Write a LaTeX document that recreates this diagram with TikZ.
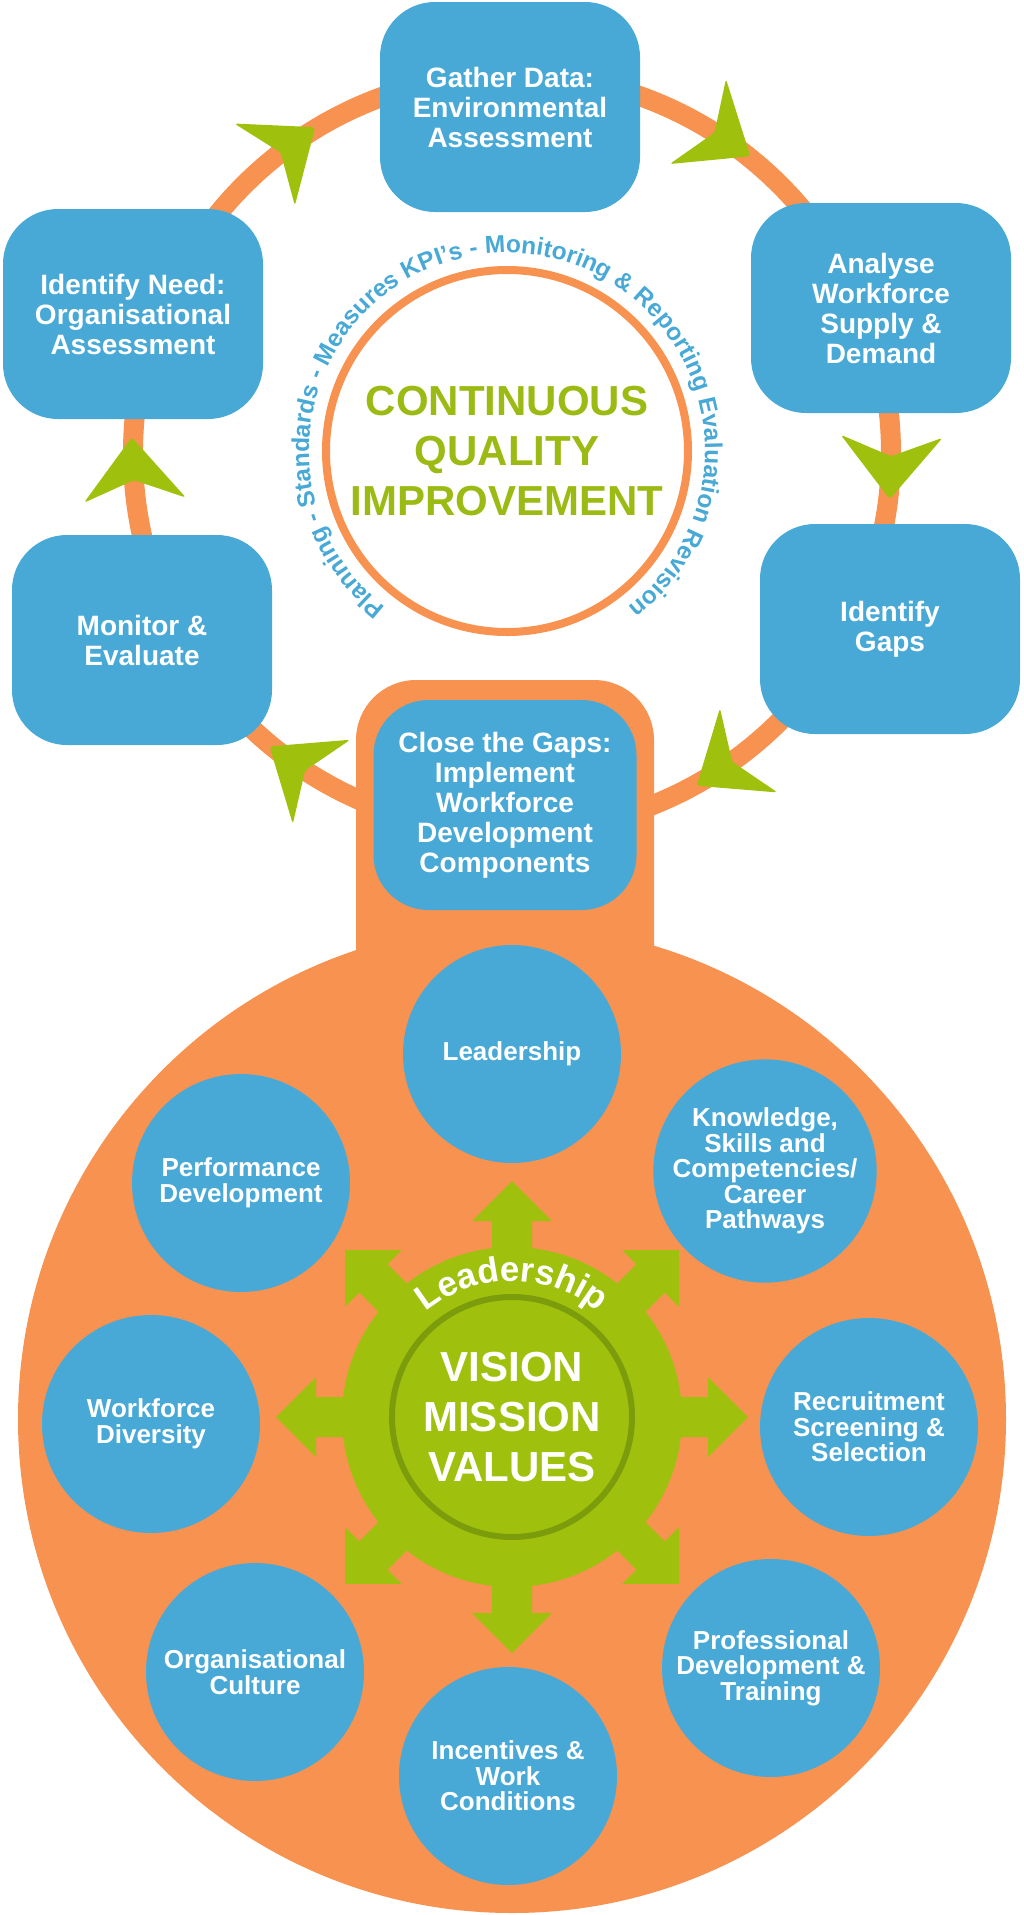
\documentclass[tikz,border=0pt]{standalone}
\usepackage{fontspec}
\setmainfont{Liberation Sans}
\usetikzlibrary{decorations.text}

\definecolor{wfblue}{RGB}{72,169,214}
\definecolor{wforange}{RGB}{248,146,80}
\definecolor{wfgreen}{RGB}{159,193,14}
\definecolor{wfdkgreen}{RGB}{124,156,12}
\definecolor{cqigreen}{RGB}{155,187,20}

\tikzset{
  stagebox/.style={rectangle, rounded corners=55, fill=wfblue, minimum width=260, minimum height=210,
    align=center, text=white, font=\bfseries\fontsize{28}{30}\selectfont},
  compcircle/.style={circle, fill=wfblue, minimum size=218, inner sep=0, align=center, text=white,
    font=\bfseries\fontsize{26}{25.5}\selectfont},
  cyclearrow/.pic={\fill[wfgreen, rounded corners=3] (35,0) -- (-28,51) -- (-8,0) -- (-28,-51) -- cycle;},
  gearspoke/.pic={\fill[wfgreen] (0,-20) -- (196,-20) -- (196,-40) -- (236,0) -- (196,40) -- (196,20) -- (0,20) -- cycle;}
}

\begin{document}
\begin{tikzpicture}[x=1pt,y=1pt]
  \useasboundingbox (0,0) rectangle (1024,-1915);

  \coordinate (ring) at (512,-453);
  \draw[wforange, line width=20] (ring) circle (379);
  \foreach \a in {126.4,56.5,-1.7,-55.7,-124.3,182.9}
    \path (ring) ++(\a:379) pic[rotate=\a-90] {cyclearrow};

  \fill[wforange] (512,-1419) circle (494);
  \fill[wforange, rounded corners=60] (356,-680) rectangle (654,-1010);

  \node[stagebox] (gather) at (510,-107) {Gather Data:\\Environmental\\Assessment};
  \node[stagebox] (analyse) at (881,-308) {Analyse\\Workforce\\Supply \&\\Demand};
  \node[stagebox] (gaps) at (890,-629) {Identify\\Gaps};
  \node[stagebox, minimum width=263] (close) at (505,-805) {Close the Gaps:\\Implement\\Workforce\\Development\\Components};
  \node[stagebox] (monitor) at (142,-640) {Monitor \&\\Evaluate};
  \node[stagebox] (need) at (133,-314) {Identify Need:\\Organisational\\Assessment};

  \node[circle, draw=wforange, line width=8, minimum size=362, inner sep=0, text=cqigreen, align=center,
    font=\bfseries\fontsize{42}{50}\selectfont] (cqi) at (507,-451) {CONTINUOUS\\QUALITY\\IMPROVEMENT};
  \path[decorate, decoration={text along path, text align=center,
    text={|\bfseries\fontsize{24.5}{25}\selectfont\color{wfblue}|Planning - Standards - Measures KPI’s - Monitoring {\&} Reporting Evaluation Revision}}]
    (cqi.center) ++(240:198) arc[start angle=240, end angle=-60, radius=198];

  \coordinate (gear) at (512,-1417);
  \fill[wfgreen] (gear) circle (170);
  \foreach \a in {0,45,...,315}
    \path (gear) pic[rotate=\a] {gearspoke};
  \node[circle, draw=wfdkgreen, line width=6, minimum size=240, inner sep=0, text=white, align=center,
    font=\bfseries\fontsize{42}{50}\selectfont] (vmv) at (gear) {VISION\\MISSION\\VALUES};
  \path[decorate, decoration={text along path, text align=center,
    text={|\bfseries\fontsize{35}{36}\selectfont\color{white}|Leadership}}]
    (gear) ++(140:136) arc[start angle=140, end angle=40, radius=136];

  \node[compcircle] (lead) at (512,-1054) {Leadership};
  \node[compcircle] (know) at (765,-1171) {Knowledge,\\Skills and\\Competencies/\\Career\\Pathways};
  \node[compcircle] (recr) at (869,-1427) {Recruitment\\Screening \&\\Selection};
  \node[compcircle] (prof) at (771,-1668) {Professional\\Development \&\\Training};
  \node[compcircle] (inct) at (508,-1776) {Incentives \&\\Work\\Conditions};
  \node[compcircle] (orgc) at (255,-1672) {Organisational\\Culture};
  \node[compcircle] (divr) at (151,-1424) {Workforce\\Diversity};
  \node[compcircle] (perf) at (241,-1183) {Performance\\Development};
\end{tikzpicture}
\end{document}
